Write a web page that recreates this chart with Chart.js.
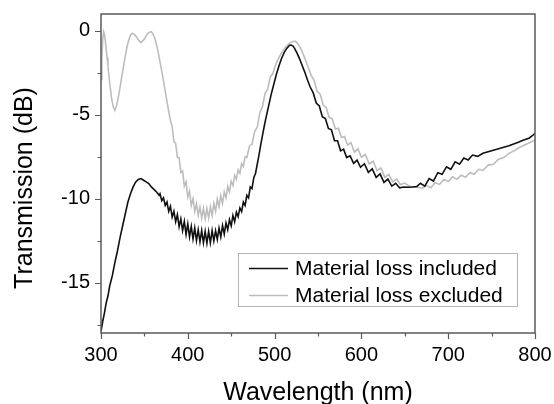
<!DOCTYPE html>
<html>
<head>
<meta charset="utf-8">
<script src="https://cdn.jsdelivr.net/npm/chart.js@4.4.1/dist/chart.umd.min.js"></script>
<style>
  html, body { margin: 0; padding: 0; background: #ffffff; }
  #wrap { width: 554px; height: 404px; position: relative; }
</style>
</head>
<body>
<div id="wrap"><canvas id="c" width="554" height="404"></canvas></div>
<script>
// ---------- DATA ----------
const seriesLabels = ["Material loss included", "Material loss excluded"];

const xTickValues = [300, 400, 500, 600, 700, 800];
const xMinorTicks = [350, 450, 550, 650, 750];
const yTickValues = [-15, -10, -5, 0];
const yMinorTicks = [-17.5, -12.5, -7.5, -2.5];

const xAxisTitle = "Wavelength (nm)";
const yAxisTitle = "Transmission (dB)";

// Material loss included (black)
const wlIncluded = [
  300, 302, 304, 306, 308, 310, 313, 316, 319, 322, 325, 328, 331, 334, 337, 340, 343, 346, 349, 352,
  355, 358, 361, 364, 367,
  368, 370, 372, 374, 376, 378, 380, 382, 384, 386, 388, 390, 392, 394, 396, 398, 400, 402, 404, 406,
  408, 410, 412, 414, 416, 418, 420, 422, 424, 426, 428, 430, 432, 434, 436, 438, 440, 442, 444, 446,
  448, 450, 452, 454, 456, 458, 460, 462, 464, 466, 468, 470, 472, 474, 476, 478,
  480, 482, 484, 486, 488, 490, 493, 496, 499, 502, 505, 508, 511, 514, 517, 519, 521, 523, 526, 529,
  532, 535, 538, 541, 544.5, 548, 551.5, 555, 558.5, 562, 565.5, 569, 572.5, 576, 579.5, 583, 587, 591,
  595, 599, 603.5, 608, 612.5, 617, 621.5, 626, 630.5, 635, 639.5, 644, 649, 654, 659, 664,
  668, 673, 678, 683, 688, 693, 698, 703, 708, 713, 718, 723, 728, 734, 740, 750, 760, 770, 780, 787,
  793, 797, 800
];
const tIncluded = [
  -17.9, -17.3, -16.8, -16.2, -15.8, -15.2, -14.6, -13.8, -13.1, -12.3, -11.6, -10.9, -10.2, -9.7, -9.3, -9.0, -8.85, -8.8, -8.9, -9.0,
  -9.1, -9.3, -9.45, -9.6, -9.8,
  -9.7, -10.12, -9.95, -10.4, -10.2, -10.75, -10.45, -11.1, -10.75, -11.37, -10.95, -11.67, -11.2, -11.9, -11.35, -12.13, -11.5, -12.27, -11.65, -12.4,
  -11.75, -12.5, -11.85, -12.57, -11.9, -12.63, -11.95, -12.65, -11.95, -12.63, -11.9, -12.52, -11.9, -12.42, -11.75, -12.27, -11.6, -12.1, -11.45, -11.85,
  -11.25, -11.62, -11.0, -11.37, -10.8, -11.07, -10.55, -10.77, -10.2, -10.4, -9.8, -9.95, -9.3, -9.4, -8.75, -8.5,
  -7.95, -7.4, -6.8, -6.25, -5.7, -5.2, -4.5, -3.8, -3.2, -2.6, -2.1, -1.65, -1.3, -1.05, -0.88, -0.85, -0.9, -1.05, -1.35, -1.7,
  -2.1, -2.5, -2.95, -3.35, -3.7, -4.3, -4.48, -5.12, -5.23, -5.82, -5.9, -6.55, -6.55, -7.15, -7.05, -7.55, -7.45, -7.9,
  -7.7, -8.13, -7.92, -8.43, -8.22, -8.73, -8.52, -9.03, -8.83, -9.25, -9.08, -9.35, -9.3, -9.32, -9.3, -9.27,
  -9.08, -9.25, -8.8, -8.95, -8.45, -8.55, -8.1, -8.25, -7.8, -7.94, -7.58, -7.7, -7.4, -7.48, -7.3, -7.15, -7.0, -6.85, -6.65, -6.5,
  -6.4, -6.25, -6.1
];

// Material loss excluded (grey)
const wlExcluded = [
  300, 301, 302, 303, 304, 305, 306, 307, 308, 309, 310, 311, 312, 313, 314, 315, 316, 317, 318, 319,
  320, 322, 324, 326, 328, 330, 332, 334, 336, 338, 340, 342, 344, 346, 348, 350, 352, 354, 356, 358,
  360, 362, 364, 366, 368, 370, 372, 374, 376, 378, 380,
  382, 384, 386, 388, 390, 392, 394, 396, 398, 400, 402, 404, 406, 408, 410, 412, 414, 416, 418, 420,
  422, 424, 426, 428, 430, 432, 434, 436, 438, 440, 442, 444, 446, 448, 450, 452, 454, 456, 458, 460,
  462, 464, 466, 468, 471, 474, 477, 480, 483, 486, 489, 492, 495, 498, 501, 504, 507, 510, 513, 516,
  519, 522, 524, 526, 528, 530, 533, 536, 539, 542, 545.5, 549, 552.5, 556, 559.5, 563, 566.5, 570, 573.5, 577,
  580.5, 584, 588, 592, 596, 600, 604.5, 609, 613.5, 618, 622.5, 627, 631.5, 636, 640.5, 645, 650, 655, 660, 665,
  670, 675, 680, 685, 690, 695, 700, 705, 710, 715, 720, 725, 730, 735, 740, 746, 752, 758, 764, 770,
  776, 782, 788, 794, 800
];
const tExcluded = [
  -2.9, -1.6, -0.5, -0.05, -0.2, -0.6, -1.1, -1.6, -2.1, -2.6, -3.1, -3.5, -3.95, -4.25, -4.5, -4.65, -4.7, -4.6, -4.45, -4.2,
  -3.95, -3.35, -2.7, -2.1, -1.5, -0.95, -0.55, -0.25, -0.15, -0.2, -0.3, -0.45, -0.6, -0.7, -0.6, -0.5, -0.3, -0.15, -0.08, -0.05,
  -0.2, -0.45, -0.85, -1.3, -1.85, -2.4, -3.0, -3.6, -4.2, -4.8, -5.35,
  -5.7, -6.6, -6.7, -7.55, -7.55, -8.45, -8.35, -9.25, -9.0, -9.9, -9.55, -10.4, -10.0, -10.75, -10.3, -11.0, -10.5, -11.15, -10.58, -11.2,
  -10.58, -11.15, -10.48, -11.0, -10.28, -10.75, -10.02, -10.48, -9.82, -10.28, -9.6, -9.95, -9.27, -9.6, -8.96, -9.22, -8.62, -8.85, -8.28, -8.5,
  -7.92, -8.08, -7.5, -7.55, -6.87, -6.75, -6.0, -5.75, -4.88, -4.52, -3.73, -3.47, -2.75, -2.55, -2.05, -1.7, -1.4, -1.15, -0.95, -0.8,
  -0.68, -0.62, -0.63, -0.72, -0.88, -1.05, -1.4, -1.8, -2.2, -2.65, -2.95, -3.6, -3.78, -4.42, -4.58, -5.17, -5.25, -5.85, -5.8, -6.35,
  -6.3, -6.8, -6.67, -7.23, -7.02, -7.53, -7.37, -7.93, -7.77, -8.33, -8.17, -8.73, -8.55, -9.0, -8.83, -9.17, -9.07, -9.25, -9.3, -9.33,
  -9.38, -9.22, -9.35, -9.05, -9.15, -8.85, -8.98, -8.7, -8.85, -8.6, -8.72, -8.45, -8.55, -8.25, -8.32, -8.0, -7.95, -7.65, -7.55, -7.3,
  -7.15, -6.95, -6.8, -6.65, -6.5
];

// ---------- STYLE / LAYOUT ----------
const FONT = "'Liberation Sans', Arial, Helvetica, sans-serif";
const AREA = { left: 101, top: 14, right: 535, bottom: 333 };
const frameColor = '#5a5a5a';

function toPoints(xs, ys) { return xs.map((x, i) => ({ x: x, y: ys[i] })); }

const decorPlugin = {
  id: 'decor',
  afterDatasetsDraw(chart) {
    const ctx = chart.ctx;
    const a = chart.chartArea;
    const xs = chart.scales.x, ys = chart.scales.y;
    ctx.save();
    // frame
    ctx.strokeStyle = frameColor;
    ctx.lineWidth = 1.5;
    ctx.strokeRect(a.left, a.top, a.right - a.left, a.bottom - a.top);
    // ticks (outward)
    ctx.lineWidth = 1.2;
    ctx.beginPath();
    xTickValues.forEach(v => { const p = Math.round(xs.getPixelForValue(v)) + 0.5; ctx.moveTo(p, a.bottom); ctx.lineTo(p, a.bottom + 6); });
    xMinorTicks.forEach(v => { const p = Math.round(xs.getPixelForValue(v)) + 0.5; ctx.moveTo(p, a.bottom); ctx.lineTo(p, a.bottom + 3.5); });
    yTickValues.forEach(v => { const p = Math.round(ys.getPixelForValue(v)) + 0.5; ctx.moveTo(a.left, p); ctx.lineTo(a.left - 6, p); });
    yMinorTicks.forEach(v => { const p = Math.round(ys.getPixelForValue(v)) + 0.5; ctx.moveTo(a.left, p); ctx.lineTo(a.left - 3.5, p); });
    ctx.stroke();

    // axis titles
    ctx.fillStyle = '#000';
    ctx.font = '25px ' + FONT;
    ctx.textAlign = 'center';
    ctx.textBaseline = 'alphabetic';
    ctx.fillText(xAxisTitle, (a.left + a.right) / 2, 400);
    ctx.save();
    ctx.translate(32, 188);
    ctx.rotate(-Math.PI / 2);
    ctx.textBaseline = 'alphabetic';
    ctx.fillText(yAxisTitle, 0, 0);
    ctx.restore();

    // legend
    const lx = 238, ly = 253, lw = 279, lh = 53;
    ctx.fillStyle = '#ffffff';
    ctx.fillRect(lx, ly, lw, lh);
    ctx.strokeStyle = '#b4b4b4';
    ctx.lineWidth = 1;
    ctx.strokeRect(lx + 0.5, ly + 0.5, lw, lh);
    const rows = [268, 295];
    const bases = [274.5, 301.5];
    chart.data.datasets.forEach((ds, i) => {
      ctx.strokeStyle = ds.borderColor;
      ctx.lineWidth = 1.5;
      ctx.beginPath();
      ctx.moveTo(249, rows[i] + 0.5);
      ctx.lineTo(288, rows[i] + 0.5);
      ctx.stroke();
      ctx.fillStyle = '#000';
      ctx.font = '21px ' + FONT;
      ctx.textAlign = 'left';
      ctx.textBaseline = 'alphabetic';
      ctx.fillText(ds.label, 295, bases[i]);
    });
    ctx.restore();
  }
};

new Chart(document.getElementById('c'), {
  type: 'line',
  data: {
    datasets: [
      { label: seriesLabels[0], data: toPoints(wlIncluded, tIncluded), borderColor: '#111111', borderWidth: 1.6, pointRadius: 0, tension: 0, fill: false },
      { label: seriesLabels[1], data: toPoints(wlExcluded, tExcluded), borderColor: '#bdbdbd', borderWidth: 1.6, pointRadius: 0, tension: 0, fill: false }
    ]
  },
  options: {
    responsive: false,
    animation: false,
    events: [],
    layout: { padding: { left: 0, top: AREA.top, right: 554 - AREA.right, bottom: 0 } },
    plugins: { legend: { display: false }, tooltip: { enabled: false } },
    scales: {
      x: {
        type: 'linear', min: 300, max: 800,
        grid: { display: false, drawTicks: false },
        border: { display: false },
        afterBuildTicks: s => { s.ticks = xTickValues.map(v => ({ value: v })); },
        afterFit: s => { s.height = 404 - AREA.bottom; s.paddingLeft = 0; s.paddingRight = 0; },
        ticks: { color: '#000', padding: 10, maxRotation: 0, font: { family: FONT, size: 20 } }
      },
      y: {
        type: 'linear', min: -18, max: 1,
        grid: { display: false, drawTicks: false },
        border: { display: false },
        afterBuildTicks: s => { s.ticks = yTickValues.map(v => ({ value: v })); },
        afterFit: s => { s.width = AREA.left; s.paddingTop = 0; s.paddingBottom = 0; },
        ticks: { color: '#000', padding: 11, font: { family: FONT, size: 20 } }
      }
    }
  },
  plugins: [decorPlugin]
});
</script>
</body>
</html>
